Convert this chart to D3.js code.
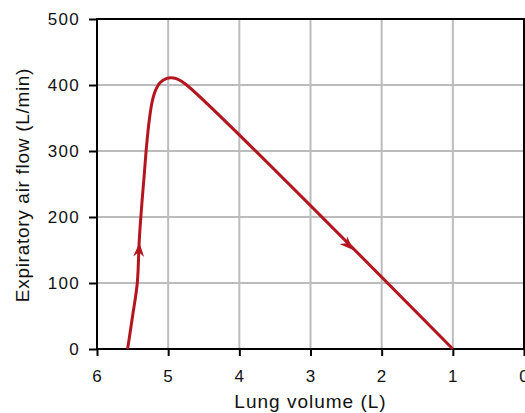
<!DOCTYPE html>
<html>
<head>
<meta charset="utf-8">
<script src="https://cdn.jsdelivr.net/npm/d3@7"></script>
<style>
  html, body { margin: 0; padding: 0; background: #fff; }
  svg { display: block; font-family: "Liberation Sans", Arial, Helvetica, sans-serif; }
</style>
</head>
<body>
<div id="chart"></div>
<script>
// Flow-volume loop (expiratory limb)
const volume = [5.57, 5.50, 5.434, 5.406, 5.37, 5.34, 5.30, 5.265, 5.23, 5.185, 5.115, 5.02, 4.95, 4.86, 4.74, 1.0];
const flow   = [0,    50,   100,   165,   220,  259,  312,  347,   372,  390,   403.5, 410,  411,  408.6, 400, 0];

const xTicks = [6, 5, 4, 3, 2, 1, 0];
const yTicks = [0, 100, 200, 300, 400, 500];

// arrow heads: tip location and a point behind it (sets direction)
const arrowTip  = [[5.403, 161], [2.40, 150]];
const arrowTail = [[5.42, 130], [2.60, 171.4]];

const width = 525;
const height = 413;
const marginTop = 19;
const marginRight = 1;
const marginBottom = 64;
const marginLeft = 97;

const red = "#b3161f";

const x = d3.scaleLinear()
    .domain([6, 0])
    .range([marginLeft, width - marginRight]);

const y = d3.scaleLinear()
    .domain([0, 500])
    .range([height - marginBottom, marginTop]);

const svg = d3.select("#chart")
  .append("svg")
    .attr("width", width)
    .attr("height", height)
    .attr("viewBox", [0, 0, width, height]);

// grid
svg.append("g")
    .attr("stroke", "#bcbcbc")
    .attr("stroke-width", 2)
  .selectAll("line.vx")
  .data(xTicks.filter(d => d > 0 && d < 6))
  .join("line")
    .attr("x1", d => x(d)).attr("x2", d => x(d))
    .attr("y1", y(0)).attr("y2", y(500));

svg.append("g")
    .attr("stroke", "#bcbcbc")
    .attr("stroke-width", 2)
  .selectAll("line.hy")
  .data(yTicks.filter(d => d > 0 && d < 500))
  .join("line")
    .attr("x1", x(6)).attr("x2", x(0))
    .attr("y1", d => y(d)).attr("y2", d => y(d));

// frame
svg.append("rect")
    .attr("x", x(6))
    .attr("y", y(500))
    .attr("width", x(0) - x(6))
    .attr("height", y(0) - y(500))
    .attr("fill", "none")
    .attr("stroke", "#000")
    .attr("stroke-width", 2);

// x axis
const gx = svg.append("g")
    .attr("transform", `translate(0,${y(0)})`)
    .call(d3.axisBottom(x).tickValues(xTicks).tickSize(7).tickPadding(14).tickFormat(d3.format("d")));
gx.select(".domain").remove();
gx.selectAll(".tick line").attr("stroke", "#000").attr("stroke-width", 2);
gx.selectAll(".tick text")
    .attr("fill", "#111")
    .style("font-size", "17px")
    .style("letter-spacing", "1.3px");

// y axis
const gy = svg.append("g")
    .attr("transform", `translate(${x(6)},0)`)
    .call(d3.axisLeft(y).tickValues(yTicks).tickSize(8).tickPadding(9));
gy.select(".domain").remove();
gy.selectAll(".tick line").attr("stroke", "#000").attr("stroke-width", 2);
gy.selectAll(".tick text")
    .attr("fill", "#111")
    .style("font-size", "17px")
    .style("letter-spacing", "1.3px");

// axis titles
svg.append("text")
    .attr("x", (x(6) + x(0)) / 2)
    .attr("y", 408)
    .attr("text-anchor", "middle")
    .attr("fill", "#111")
    .style("font-size", "19px")
    .style("letter-spacing", "1px")
    .text("Lung volume (L)");

svg.append("text")
    .attr("transform", `translate(29,${(y(0) + y(500)) / 2 + 1}) rotate(-90)`)
    .attr("text-anchor", "middle")
    .attr("fill", "#111")
    .style("font-size", "19px")
    .style("letter-spacing", "0.7px")
    .text("Expiratory air flow (L/min)");

// curve
const pts = volume.map((v, i) => [v, flow[i]]);
const line = d3.line()
    .x(d => x(d[0]))
    .y(d => y(d[1]))
    .curve(d3.curveCatmullRom.alpha(0.5));

svg.append("path")
    .datum(pts)
    .attr("d", line)
    .attr("fill", "none")
    .attr("stroke", red)
    .attr("stroke-width", 3)
    .attr("stroke-linejoin", "round");

// arrow heads
svg.append("g")
  .selectAll("path")
  .data(arrowTip.map((t, i) => [t, arrowTail[i]]))
  .join("path")
    .attr("d", "M0,0L-14,-5.5L-9.5,0L-14,5.5Z")
    .attr("fill", red)
    .attr("transform", ([t, b]) => {
      const tx = x(t[0]), ty = y(t[1]);
      const ang = Math.atan2(ty - y(b[1]), tx - x(b[0])) * 180 / Math.PI;
      return `translate(${tx},${ty}) rotate(${ang})`;
    });
</script>
</body>
</html>
